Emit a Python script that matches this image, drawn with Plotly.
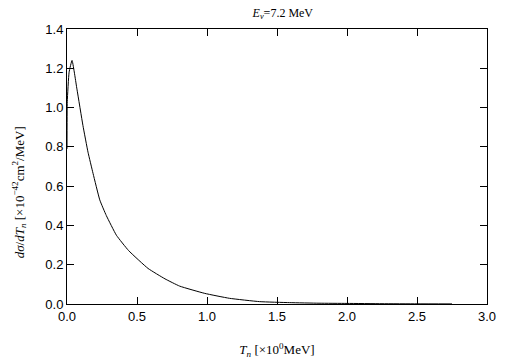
import plotly.graph_objects as go

# Data
tn = [0.0, 0.002, 0.015, 0.036, 0.071, 0.114, 0.15, 0.186, 0.234, 0.281, 0.353,
      0.44, 0.579, 0.7, 0.805, 0.984, 1.16, 1.376, 1.59, 1.8, 2.0, 2.25, 2.5, 2.75]
dsig = [0.79, 1.03, 1.18, 1.24, 1.094, 0.908, 0.773, 0.665, 0.53, 0.45, 0.35,
        0.272, 0.181, 0.128, 0.091, 0.054, 0.029, 0.012, 0.007, 0.004, 0.003, 0.0015,
        0.0008, 0.0004]

x_ticks = [0.0, 0.5, 1.0, 1.5, 2.0, 2.5, 3.0]
y_ticks = [0.0, 0.2, 0.4, 0.6, 0.8, 1.0, 1.2, 1.4]

fig = go.Figure()
fig.add_trace(go.Scatter(x=tn, y=dsig, mode="lines",
                         line=dict(color="black", width=1, shape="spline", smoothing=0.4),
                         showlegend=False))

serif = "Liberation Serif, Times New Roman, serif"
sans = "Liberation Sans, Arial, Helvetica, sans-serif"

axis_common = dict(showline=True, linecolor="black", linewidth=1, mirror="allticks",
                   ticks="inside", ticklen=7, tickcolor="black", tickwidth=1,
                   showgrid=False, zeroline=False, automargin=False,
                   tickfont=dict(family=sans, size=13, color="black"))

fig.update_layout(
    width=505, height=361,
    margin=dict(l=67, r=18, t=29, b=57),
    paper_bgcolor="white", plot_bgcolor="white",
    title=dict(text="<i>E</i><sub><i>ν</i></sub>=7.2 MeV",
               font=dict(family=serif, size=12, color="black"),
               x=0.56, xanchor="center", y=0.965, yanchor="middle"),
    xaxis=dict(range=[0, 3.0], tickvals=x_ticks, ticktext=[f"{v:.1f}" for v in x_ticks],
               title=dict(text="<i>T</i><sub><i>n</i></sub> [×10<sup>0</sup>MeV]",
                          font=dict(family=serif, size=13, color="black"), standoff=22),
               **axis_common),
    yaxis=dict(range=[0, 1.4], tickvals=y_ticks, ticktext=[f"{v:.1f}" for v in y_ticks],
               **axis_common),
    annotations=[dict(
        text="<i>dσ</i>/<i>dT</i><sub><i>n</i></sub> [×10<sup>−42</sup>cm<sup>2</sup>/MeV]",
        textangle=-90, xref="paper", yref="paper", x=-0.115, y=0.405,
        xanchor="center", yanchor="middle", showarrow=False,
        font=dict(family=serif, size=13, color="black"))],
)

fig.write_html("out.html", config={"displayModeBar": False},
               post_script="document.body.style.margin='0';document.body.style.padding='0';")
